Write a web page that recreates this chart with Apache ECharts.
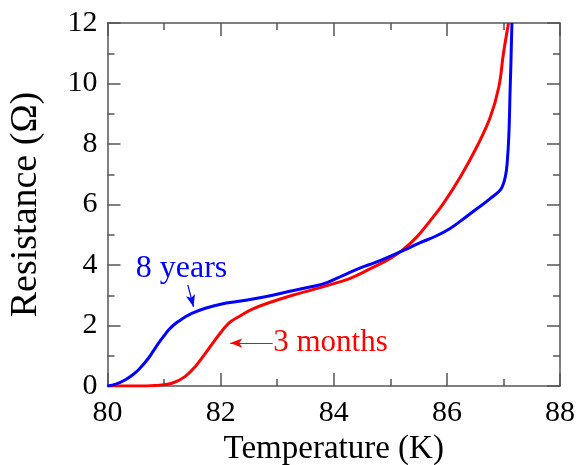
<!DOCTYPE html>
<html>
<head>
<meta charset="utf-8">
<script src="https://cdn.jsdelivr.net/npm/echarts@6/dist/echarts.min.js"></script>
<style>html,body{margin:0;padding:0;background:#fff}#c{width:579px;height:465px}</style>
</head>
<body>
<div id="c"></div>
<script>
const xTicks = [80, 82, 84, 86, 88];
const yTicks = [0, 2, 4, 6, 8, 10, 12];

const blueT = [80.0, 80.15, 80.31, 80.43, 80.545, 80.72, 80.9, 81.0, 81.08, 81.16, 81.25, 81.37, 81.49, 81.73, 82.02, 82.32, 82.79, 83.27, 83.6, 83.88, 84.16, 84.46, 84.76, 85.17, 85.52, 85.8, 86.05, 86.24, 86.5, 86.77, 86.98, 87.07, 87.12, 87.15];
const blueR = [0.0, 0.06, 0.2, 0.35, 0.53, 0.91, 1.41, 1.66, 1.85, 2.0, 2.13, 2.28, 2.40, 2.57, 2.71, 2.80, 2.95, 3.15, 3.28, 3.42, 3.65, 3.9, 4.1, 4.43, 4.73, 4.95, 5.2, 5.45, 5.82, 6.2, 6.59, 7.47, 9.9, 12.0];

const redT = [80.0, 80.5, 80.84, 81.14, 81.37, 81.55, 81.73, 81.9, 82.0, 82.08, 82.18, 82.32, 82.55, 82.79, 83.27, 83.6, 83.88, 84.28, 84.64, 85.0, 85.22, 85.47, 85.7, 85.94, 86.24, 86.53, 86.77, 86.92, 87.0, 87.09];
const redR = [0.0, 0.0, 0.02, 0.09, 0.31, 0.64, 1.08, 1.52, 1.76, 1.95, 2.13, 2.29, 2.53, 2.71, 3.0, 3.17, 3.32, 3.55, 3.87, 4.22, 4.5, 4.93, 5.45, 6.04, 6.92, 7.91, 8.9, 9.9, 10.99, 12.0];

const seriesNames = ['8 years', '3 months'];
const blueArrow = [[81.42, 3.34], [81.52, 2.62]];
const redArrow = [[82.92, 1.42], [82.17, 1.42]];
const blueLabelAt = [80.5, 3.88];
const redLabelAt = [82.93, 1.42];

const FONT = 'Liberation Serif';
const AX = '#555';
function zip(a, b) { return a.map((v, i) => [v, b[i]]); }

const xBase = {
  type: 'value', min: xTicks[0], max: xTicks[xTicks.length - 1], interval: 2,
  axisLine: { show: true, onZero: false, lineStyle: { color: AX, width: 1.5 } },
  axisTick: { show: true, inside: true, length: 13, lineStyle: { color: AX, width: 1.5 } },
  minorTick: { show: true, splitNumber: 2, length: 7, lineStyle: { color: AX, width: 1.5 } },
  splitLine: { show: false }
};
const yBase = {
  type: 'value', min: yTicks[0], max: yTicks[yTicks.length - 1], interval: 2,
  axisLine: { show: true, onZero: false, lineStyle: { color: AX, width: 1.5 } },
  axisTick: { show: true, inside: true, length: 13, lineStyle: { color: AX, width: 1.5 } },
  minorTick: { show: true, splitNumber: 2, length: 7, lineStyle: { color: AX, width: 1.5 } },
  splitLine: { show: false }
};

const chart = echarts.init(document.getElementById('c'), null, { renderer: 'canvas' });
const option = {
  animation: false,
  backgroundColor: '#fff',
  grid: { left: 107.5, top: 23, right: 19, bottom: 79, containLabel: false, outerBoundsMode: 'none' },
  xAxis: [
    Object.assign({}, xBase, {
      position: 'bottom',
      name: 'Temperature (K)', nameLocation: 'middle', nameGap: 46,
      nameTextStyle: { fontFamily: FONT, fontSize: 33, color: '#000' },
      axisLabel: { fontFamily: FONT, fontSize: 30, color: '#000', margin: 12 }
    }),
    Object.assign({}, xBase, { position: 'top', axisLabel: { show: false } })
  ],
  yAxis: [
    Object.assign({}, yBase, {
      position: 'left',
      name: 'Resistance (Ω)', nameLocation: 'middle', nameGap: 62,
      nameTextStyle: { fontFamily: FONT, fontSize: 38, color: '#000' },
      axisLabel: { fontFamily: FONT, fontSize: 30, color: '#000', margin: 10 }
    }),
    Object.assign({}, yBase, { position: 'right', axisLabel: { show: false } })
  ],
  series: [
    {
      name: seriesNames[0], type: 'line', data: zip(blueT, blueR),
      showSymbol: false, smooth: 0.4,
      lineStyle: { color: '#0000ff', width: 3 }, z: 3,
      markLine: {
        silent: true, symbol: ['none', 'arrow'], symbolSize: [7, 12],
        lineStyle: { color: '#0000ff', width: 1.2, type: 'solid' },
        label: { show: false },
        data: [[{ coord: blueArrow[0] }, { coord: blueArrow[1] }]]
      }
    },
    {
      name: seriesNames[1], type: 'line', data: zip(redT, redR),
      showSymbol: false, smooth: 0.4,
      lineStyle: { color: '#ff0000', width: 3 }, z: 2,
      markLine: {
        silent: true, symbol: ['none', 'arrow'], symbolSize: [7, 12],
        lineStyle: { color: '#ff0000', width: 1.2, type: 'solid' },
        label: { show: false },
        data: [[{ coord: redArrow[0] }, { coord: redArrow[1] }]]
      }
    }
  ]
};
chart.setOption(option);

const pb = chart.convertToPixel({ xAxisIndex: 0, yAxisIndex: 0 }, blueLabelAt);
const pr = chart.convertToPixel({ xAxisIndex: 0, yAxisIndex: 0 }, redLabelAt);
chart.setOption({
  graphic: [
    { type: 'text', x: pb[0], y: pb[1], style: { text: seriesNames[0], fontFamily: FONT, fontSize: 32, fill: '#0000ff', textVerticalAlign: 'middle', textAlign: 'left' } },
    { type: 'text', x: pr[0], y: pr[1], style: { text: seriesNames[1], fontFamily: FONT, fontSize: 31, fill: '#ff0000', textVerticalAlign: 'middle', textAlign: 'left' } }
  ]
});
</script>
</body>
</html>
